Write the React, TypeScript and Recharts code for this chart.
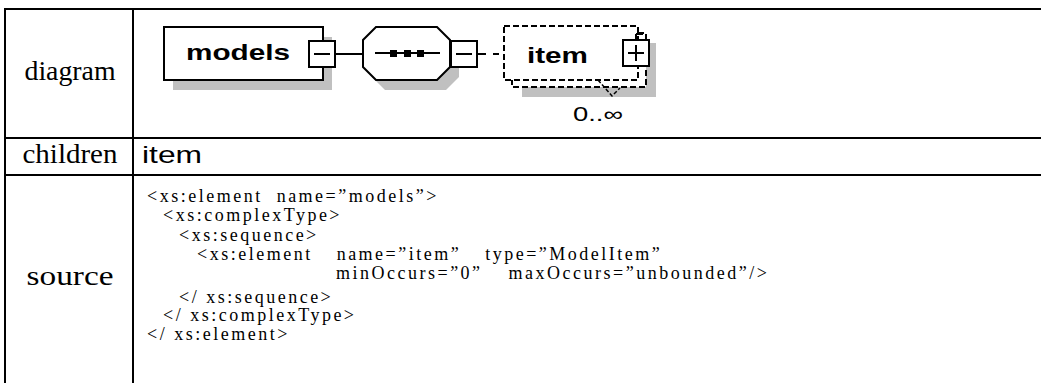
import React from 'react';
import { ComposedChart, XAxis, YAxis, ReferenceArea, ReferenceLine } from 'recharts';

const W = 1041;
const H = 383;

// texts of the schema documentation table
const rowLabels = ['diagram', 'children', 'source'];
const childNames = ['item'];
const rootName = 'models';
const itemName = 'item';
const occurrence = '0..\u221E';
const sourceLines = [
  '<xs:element  name=\u201Dmodels\u201D>',
  '<xs:complexType>',
  '<xs:sequence>',
  '<xs:element  name=\u201Ditem\u201D  type=\u201DModelItem\u201D',
  'minOccurs=\u201D0\u201D  maxOccurs=\u201Dunbounded\u201D/>',
  '</ xs:sequence>',
  '</ xs:complexType>',
  '</ xs:element>',
];

// layout
const SERIF = "'Liberation Serif', 'Times New Roman', serif";
const SANS = "'Liberation Sans', Arial, sans-serif";
const SHADOW = '#c0c0c0';
const rowEdges = [9, 138, 175, H];
const labelWidths = [91, 95, 87];
const srcX = [147, 163, 179, 197, 336, 179, 163, 147];
const srcBase = [202, 221, 241, 260, 279, 303, 321, 340];
const srcWordGap = [0, 0, 0, 5, 6, 0, 0, 0];

const LabelCell = (p: any) => {
  const { x, y, width, height, text, tw } = p;
  return (
    <text
      x={x + width / 2 + 1}
      y={y + height / 2 + 6.3}
      textAnchor="middle"
      fontFamily={SERIF}
      fontSize={28}
      textLength={tw}
      lengthAdjust="spacingAndGlyphs"
      fill="#000"
    >
      {text}
    </text>
  );
};

const SourceCell = () => (
  <g fontFamily={SERIF} fontSize={18} fill="#000">
    {sourceLines.map((s, i) => (
      <text
        key={i}
        x={srcX[i]}
        y={srcBase[i]}
        style={{ whiteSpace: 'pre', letterSpacing: '2.5px', wordSpacing: `${srcWordGap[i]}px` }}
      >
        {s}
      </text>
    ))}
  </g>
);

const Toggle = ({ x, y, plus }: { x: number; y: number; plus?: boolean }) => (
  <g>
    <rect x={x} y={y} width={26} height={26} fill="#fff" stroke="#000" strokeWidth={2} />
    <line x1={x + 5} x2={x + 21} y1={y + 13} y2={y + 13} stroke="#000" strokeWidth={2} />
    {plus && <line x1={x + 13} x2={x + 13} y1={y + 5} y2={y + 21} stroke="#000" strokeWidth={2} />}
  </g>
);

const ElementNode = (p: any) => {
  const { x, y, width: w, height: h } = p;
  return (
    <g>
      <rect x={x + 9} y={y + 10} width={w} height={h} fill={SHADOW} />
      <rect x={x} y={y} width={w} height={h} fill="#fff" stroke="#000" strokeWidth={2} />
      <text x={x + 22} y={y + 33} fontFamily={SANS} fontWeight="bold" fontSize={22} textLength={104} lengthAdjust="spacingAndGlyphs">
        {rootName}
      </text>
      <Toggle x={x + w - 14} y={y + 14} />
    </g>
  );
};

const SequenceNode = (p: any) => {
  const { x, y, width: w, height: h } = p;
  const c = 13;
  const pts = (dx: number, dy: number) =>
    [
      [x + c, y], [x + w - c, y], [x + w, y + c], [x + w, y + h - c],
      [x + w - c, y + h], [x + c, y + h], [x, y + h - c], [x, y + c],
    ]
      .map(([a, b]) => `${a + dx},${b + dy}`)
      .join(' ');
  const my = y + 26;
  return (
    <g>
      <polygon points={pts(9, 10)} fill={SHADOW} />
      <polygon points={pts(0, 0)} fill="#fff" stroke="#000" strokeWidth={2} />
      <line x1={x + 12} x2={x + 77} y1={my} y2={my} stroke="#000" strokeWidth={2} />
      {[30, 44, 57].map((d) => (
        <rect key={d} x={x + d - 3} y={my - 3} width={7} height={7} fill="#000" />
      ))}
      <Toggle x={x + w + 1} y={y + 14} />
    </g>
  );
};

const ItemNode = (p: any) => {
  const { x, y, width: w, height: h } = p;
  return (
    <g>
      <rect x={x + 18} y={y + 17} width={w} height={h} fill={SHADOW} />
      <rect x={x + 8} y={y + 7} width={w} height={h} fill="#fff" stroke="#000" strokeWidth={2} strokeDasharray="6 3" />
      <rect x={x} y={y} width={w} height={h} fill="#fff" stroke="#000" strokeWidth={2} strokeDasharray="6 3" />
      <text x={x + 23} y={y + 37} fontFamily={SANS} fontWeight="bold" fontSize={22} textLength={61} lengthAdjust="spacingAndGlyphs">
        {itemName}
      </text>
      <line x1={x + w - 2} x2={x + w - 2} y1={y + 8} y2={y + 14} stroke="#000" strokeWidth={2} />
      <line x1={x + w - 2} x2={x + w + 5} y1={y + 8} y2={y + 8} stroke="#000" strokeWidth={2} />
      <Toggle x={x + w - 15} y={y + 14} plus />
      <polyline points={`${x + 94},${y + 54} ${x + 108},${y + 70} ${x + 116},${y + 62}`} fill="none" stroke="#000" strokeWidth={1.5} strokeDasharray="4 2" />
      <text x={x + 69} y={y + 95} fontFamily={SANS} fontSize={20} textLength={50} lengthAdjust="spacingAndGlyphs">
        {occurrence}
      </text>
    </g>
  );
};

const rule = { stroke: '#000', strokeWidth: 2, ifOverflow: 'visible' as const };

export default function App() {
  return (
    <div style={{ position: 'absolute', left: 0, top: 0, width: W, height: H, background: '#fff' }}>
      <ComposedChart width={W} height={H} margin={{ top: 0, right: 0, bottom: 0, left: 0 }}>
        <XAxis type="number" dataKey="x" domain={[0, W]} allowDataOverflow hide />
        <YAxis type="number" dataKey="y" domain={[0, H]} allowDataOverflow reversed hide />

        {rowLabels.map((lab, i) => (
          <ReferenceArea
            key={lab}
            x1={5}
            x2={133}
            y1={rowEdges[i]}
            y2={rowEdges[i + 1]}
            ifOverflow="visible"
            shape={(p: any) => <LabelCell {...p} text={lab} tw={labelWidths[i]} />}
          />
        ))}
        <ReferenceArea
          x1={133}
          x2={W}
          y1={rowEdges[1]}
          y2={rowEdges[2]}
          ifOverflow="visible"
          shape={(p: any) => (
            <text x={p.x + 9} y={163} fontFamily={SANS} fontSize={24} textLength={60} lengthAdjust="spacingAndGlyphs">
              {childNames.join(' ')}
            </text>
          )}
        />
        <ReferenceArea x1={133} x2={W} y1={rowEdges[2]} y2={H} ifOverflow="visible" shape={() => <SourceCell />} />

        {/* connectors */}
        <ReferenceLine segment={[{ x: 335, y: 54 }, { x: 363, y: 54 }]} {...rule} />
        <ReferenceLine segment={[{ x: 477, y: 54 }, { x: 486, y: 54 }]} {...rule} />
        <ReferenceLine segment={[{ x: 493, y: 54 }, { x: 499, y: 54 }]} {...rule} />

        <ReferenceArea x1={164} x2={323} y1={27} y2={80} ifOverflow="visible" shape={(p: any) => <ElementNode {...p} />} />
        <ReferenceArea x1={363} x2={450} y1={27} y2={80} ifOverflow="visible" shape={(p: any) => <SequenceNode {...p} />} />
        <ReferenceArea x1={504} x2={638} y1={26} y2={80} ifOverflow="visible" shape={(p: any) => <ItemNode {...p} />} />

        {/* table rules */}
        <ReferenceLine segment={[{ x: 4, y: 9 }, { x: W, y: 9 }]} {...rule} />
        <ReferenceLine segment={[{ x: 5, y: 8 }, { x: 5, y: H }]} {...rule} />
        <ReferenceLine segment={[{ x: 133, y: 9 }, { x: 133, y: H }]} {...rule} />
        <ReferenceLine segment={[{ x: 4, y: 138 }, { x: W, y: 138 }]} {...rule} />
        <ReferenceLine segment={[{ x: 4, y: 175 }, { x: W, y: 175 }]} {...rule} />
      </ComposedChart>
    </div>
  );
}
